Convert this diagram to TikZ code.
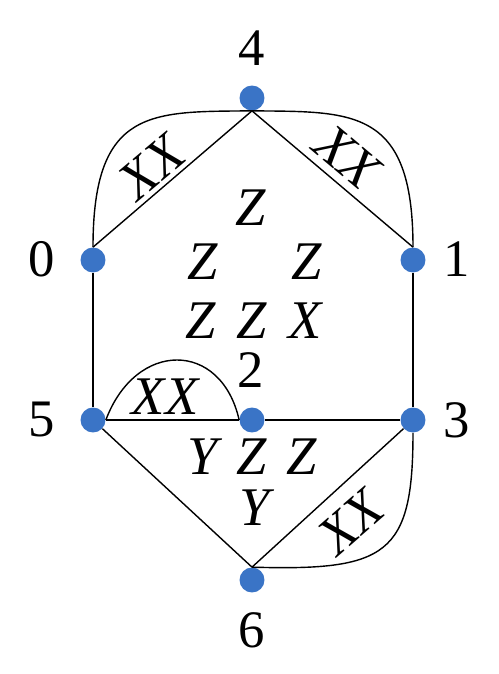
\documentclass[tikz,border=0pt]{standalone}
\usepackage{fontspec}
\setmainfont{Liberation Serif}
\usetikzlibrary{positioning}
\definecolor{dotblue}{HTML}{3A74C6}

\begin{document}
\begin{tikzpicture}[x=0.02cm,y=0.02cm,
 vert/.style={circle,fill=dotblue,minimum size=5mm,inner sep=0pt},
 num/.style={font=\fontsize{30}{32}\selectfont,inner sep=0pt},
 sym/.style={font=\fontsize{31}{32}\selectfont\itshape,inner sep=0pt},
 wire/.style={draw=black,line width=0.8pt}]
\useasboundingbox (0,0) rectangle (499,674);
% vertices
\node[vert] (n4) at (252,576) {};
\node[vert] (n0) at (93,414) {};
\node[vert] (n1) at (413,414) {};
\node[vert] (n5) at (93,254) {};
\node[vert] (n2) at (252,254) {};
\node[vert] (n3) at (413,254) {};
\node[vert] (n6) at (252,94) {};
% vertex labels
\node[num] (l4) at (252,626) {4};
\node[num] (l0) at (42,415) {0};
\node[num] (l1) at (457,415) {1};
\node[num] (l5) at (42,254) {5};
\node[num] (l3) at (457,254) {3};
\node[num] (l6) at (252,44) {6};
\node[num] (l2) at (251,304) {2};
% straight edges
\draw[wire] (n4.south) -- (n0.north);
\draw[wire] (n4.south) -- (n1.north);
\draw[wire] (n0) -- (n5);
\draw[wire] (n1) -- (n3);
\draw[wire] (n5) -- (n2);
\draw[wire] (n2) -- (n3);
\draw[wire] (n5) -- (n6.north);
\draw[wire] (n6.north) -- (n3);
% curved edges
\draw[wire] (n0.north) .. controls +(0,140) and +(-100,-1) .. (n4.south);
\draw[wire] (n4.south) .. controls +(100,-1) and +(0,140) .. (n1.north);
\draw[wire] (n6.north) .. controls +(135,-4) and +(0,-122) .. (n3.south);
\draw[wire] (n5.east) .. controls +(30,80) and +(-18,80) .. (n2.west);
% edge labels
\node[sym,rotate=40] (x04) at (152,507) {XX};
\node[sym,rotate=-40] (x41) at (347,517) {XX};
\node[sym,rotate=41] (x63) at (351,152) {XX};
\node[sym] (x52) at (165,277) {XX};
% face labels
\node[sym] (z1) at (251,466) {Z};
\node[sym] (z2) at (203,412) {Z};
\node[sym] (z3) at (307,412) {Z};
\node[sym] (z4) at (201,353) {Z};
\node[sym] (z5) at (252,353) {Z};
\node[sym] (x1) at (305,353) {X};
\node[sym] (y1) at (203,217) {Y};
\node[sym] (z6) at (252,217) {Z};
\node[sym] (z7) at (302,217) {Z};
\node[sym] (y2) at (255,166) {Y};
\end{tikzpicture}
\end{document}
